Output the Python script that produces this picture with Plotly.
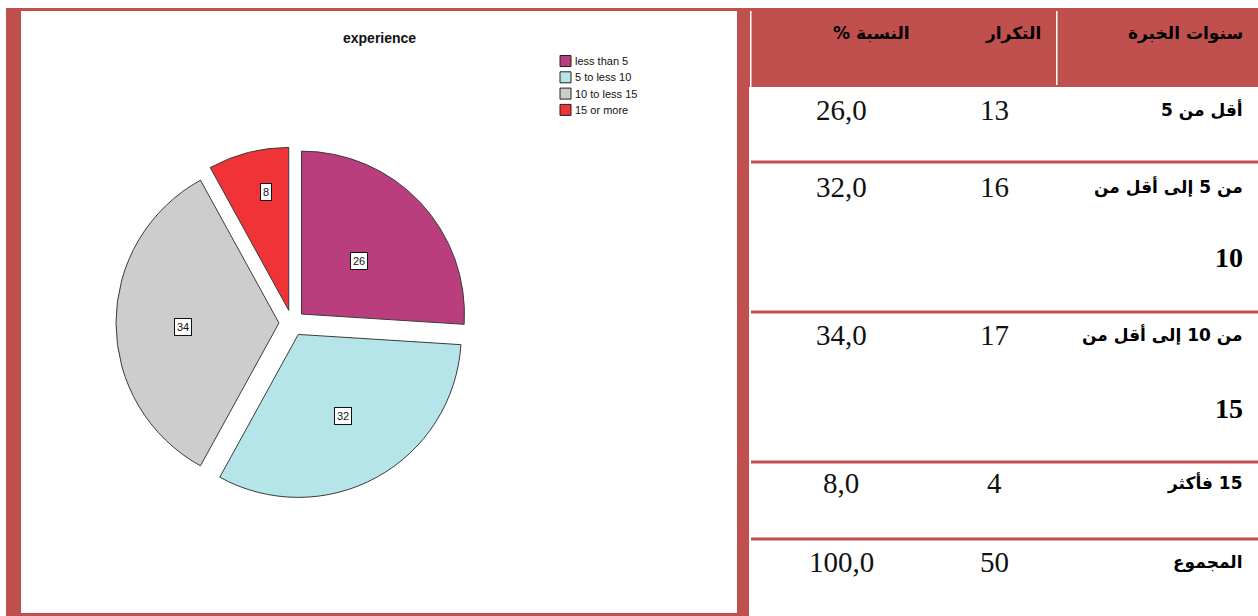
import math
import plotly.graph_objects as go

# ---------------- data ----------------
categories = ["less than 5", "5 to less 10", "10 to less 15", "15 or more"]
counts = [13, 16, 17, 4]
percents = [26.0, 32.0, 34.0, 8.0]
total_count = 50
total_percent = 100.0
chart_title = "experience"
headers = ["سنوات الخبرة", "التكرار", "النسبة %"]
row_labels = ["أقل من 5", "من 5 إلى أقل من", "من 10 إلى أقل من", "15 فأكثر"]
row_labels_line2 = ["", "10", "15", ""]
total_label = "المجموع"

# ---------------- style ----------------
slice_colors = ["#BA3E7E", "#B5E5E8", "#CDCDCD", "#EF3337"]
RED = "#C0504D"
W, H = 1258, 616
PULL = 0.08
label_r = [0.48, 0.57, 0.59, 0.74]
label_dth = [0, 0, -2.0, 3.0]   # small angular nudges (degrees) for label boxes


def X(p):
    return p / W


def Y(p):
    return 1 - p / H


RLM = "\u200f"

fig = go.Figure()

# pie domain (pixels)
pie_x0, pie_x1, pie_y0, pie_y1 = 116, 468, 147, 499
fig.add_trace(go.Pie(
    values=counts,
    labels=categories,
    sort=False,
    direction="clockwise",
    rotation=0,
    pull=PULL,
    textinfo="none",
    hoverinfo="none",
    showlegend=False,
    marker=dict(colors=slice_colors, line=dict(color="#3a3a3a", width=1)),
    domain=dict(x=[X(pie_x0), X(pie_x1)], y=[Y(pie_y1), Y(pie_y0)]),
))

shapes = []
annotations = []


def rect(x0, y0, x1, y1, color, line=None):
    shapes.append(dict(type="rect", xref="paper", yref="paper",
                       x0=X(x0), x1=X(x1), y0=Y(y1), y1=Y(y0),
                       fillcolor=color, line=dict(width=0) if line is None else line,
                       layer="above"))


# frame around pie
rect(6, 8, 21, 616, RED)
rect(6, 8, 737, 11, RED)
rect(6, 613, 737, 616, RED)
rect(737, 8, 749, 616, RED)
# table header
rect(749, 8, 1258, 87, RED)
rect(750, 11, 751.5, 87, "white")
rect(1056, 11, 1057.5, 85, "white")
# row separators
for yy in [162, 312, 462, 539]:
    rect(751, yy - 1.5, 1258, yy + 1.5, RED)

# pie value labels (computed from data)
cx = (pie_x0 + pie_x1) / 2
cy = (pie_y0 + pie_y1) / 2
R = (pie_x1 - pie_x0) / (2 + 2 * PULL)
tot = sum(counts)
cum = 0
for i, c in enumerate(counts):
    mid = (cum + c / 2) / tot
    cum += c
    th = 2 * math.pi * mid + math.radians(label_dth[i])
    d = (PULL + label_r[i]) * R
    lx = cx + d * math.sin(th)
    ly = cy - d * math.cos(th)
    annotations.append(dict(
        x=X(lx), y=Y(ly), xref="paper", yref="paper", showarrow=False,
        text=f"{percents[i]:.0f}", font=dict(family="Liberation Sans", size=11, color="#111"),
        bgcolor="white", bordercolor="#111", borderwidth=1, borderpad=2,
        xanchor="center", yanchor="middle"))

# title
annotations.append(dict(x=X(379), y=Y(38), xref="paper", yref="paper", showarrow=False,
                        text=f"<b>{chart_title}</b>",
                        font=dict(family="Liberation Sans", size=14, color="#111"),
                        xanchor="center", yanchor="middle"))

# legend (manual, compact)
leg_y0 = 61
leg_step = 16.3
for i, cat in enumerate(categories):
    yc = leg_y0 + i * leg_step
    rect(560, yc - 5.5, 571, yc + 5.5, slice_colors[i], line=dict(color="#222", width=1))
    annotations.append(dict(x=X(573), y=Y(yc), xref="paper", yref="paper", showarrow=False,
                            text=cat, font=dict(family="Liberation Sans", size=11, color="#111"),
                            xanchor="left", yanchor="middle"))

# table text
AR_FONT = dict(family="DejaVu Sans", size=17, color="#000")
NUM_FONT = dict(family="Liberation Serif", size=29, color="#111")
BOLD_NUM_FONT = dict(family="Liberation Serif", size=28, color="#000")
col_label_x = 1245
col_count_x = 994
col_pct_x = 841


def ann(x, y, text, font, anchor):
    annotations.append(dict(x=X(x), y=Y(y), xref="paper", yref="paper", showarrow=False,
                            text=text, font=font, xanchor=anchor, yanchor="middle"))


header_y = 33
ann(col_label_x, header_y, "<b>" + RLM + headers[0] + RLM + "</b>", AR_FONT, "right")
ann(1013, header_y, "<b>" + RLM + headers[1] + RLM + "</b>", AR_FONT, "center")
ann(871, header_y, "<b>" + RLM + headers[2] + RLM + "</b>", AR_FONT, "center")

row_y = [110, 187, 335, 483]
row_y2 = [None, 258, 408, None]


def fmt(v):
    return f"{v:.1f}".replace(".", ",")


for i in range(len(row_labels)):
    ann(col_label_x, row_y[i], "<b>" + RLM + row_labels[i] + RLM + "</b>", AR_FONT, "right")
    if row_labels_line2[i]:
        ann(col_label_x, row_y2[i], "<b>" + row_labels_line2[i] + "</b>", BOLD_NUM_FONT, "right")
    ann(col_count_x, row_y[i], str(counts[i]), NUM_FONT, "center")
    ann(col_pct_x, row_y[i], fmt(percents[i]), NUM_FONT, "center")

ann(col_label_x, 562, "<b>" + RLM + total_label + RLM + "</b>", AR_FONT, "right")
ann(col_count_x, 562, str(total_count), NUM_FONT, "center")
ann(col_pct_x, 562, fmt(total_percent), NUM_FONT, "center")

fig.update_layout(
    width=W, height=H, autosize=False,
    margin=dict(l=0, r=0, t=0, b=0),
    paper_bgcolor="white", plot_bgcolor="white",
    shapes=shapes, annotations=annotations,
    showlegend=False,
)

fig.write_html("out.html", config={"displayModeBar": False})
